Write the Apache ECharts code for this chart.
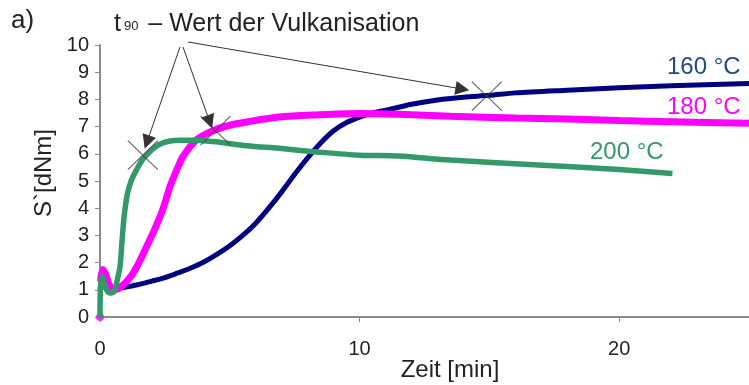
<!DOCTYPE html>
<html>
<head>
<meta charset="utf-8">
<script src="https://cdn.jsdelivr.net/npm/echarts@6/dist/echarts.min.js"></script>
<style>
html,body{margin:0;padding:0;background:#fff;}
#chart{width:749px;height:385px;}
</style>
</head>
<body>
<div id="chart"></div>
<script>
// Data (x: Zeit [min], y: S` [dNm])
var curve160 = [[0,1.0],[0.1,1.3],[0.3,1.15],[0.6,1.05],[1.0,1.1],[1.5,1.2],[2,1.32],[2.5,1.45],[3,1.62],[3.5,1.8],[4,2.02],[4.5,2.3],[5,2.62],[5.5,3.0],[6,3.45],[6.5,4.0],[7,4.6],[7.5,5.25],[8,5.85],[8.5,6.4],[9,6.85],[9.5,7.15],[10,7.35],[10.5,7.5],[11,7.6],[12,7.82],[13,7.98],[14,8.08],[15,8.15],[16,8.24],[18,8.34],[20,8.43],[22,8.5],[25,8.58]];
var curve180 = [[0.02,1.3],[0.1,1.75],[0.2,1.6],[0.35,1.2],[0.5,1.0],[0.8,1.1],[1.2,1.5],[1.5,2.0],[1.8,2.6],[2.05,3.1],[2.4,3.9],[2.7,4.8],[3.0,5.5],[3.2,5.9],[3.7,6.5],[4.35,6.85],[5,7.05],[5.65,7.17],[6.9,7.35],[8.35,7.43],[10,7.48],[11.5,7.45],[13.5,7.38],[16,7.32],[18,7.28],[20,7.22],[22,7.18],[25,7.12]];
var start180 = [[0,0]];
var curve200 = [[0,0],[0.02,1.1],[0.08,1.5],[0.15,1.3],[0.25,1.0],[0.4,0.88],[0.55,0.95],[0.65,1.3],[0.77,1.85],[0.85,2.8],[0.93,3.7],[1.05,4.5],[1.2,5.0],[1.4,5.4],[1.65,5.8],[2.0,6.15],[2.3,6.35],[2.7,6.47],[3.1,6.5],[3.5,6.5],[4.35,6.45],[5.65,6.3],[6.9,6.2],[8.35,6.07],[10,5.95],[11.5,5.92],[13.5,5.77],[16.7,5.6],[20,5.42],[22.05,5.28]];
var t90Points = [[1.65,5.95],[4.45,6.85],[14.9,8.12]];
var arrowTips = [[1.81,6.43],[4.23,7.17],[13.96,8.38]];
var xTicks = [0, 10, 20];
var yTicks = [0,1,2,3,4,5,6,7,8,9,10];

var FONT = 'Liberation Sans, Arial, sans-serif';
var chart = echarts.init(document.getElementById('chart'), null, {renderer:'canvas'});

var arrowTails = [{x:180,y:47},{x:183,y:47},{x:188,y:42}];
var arrowData = arrowTips.map(function(p,i){ return [arrowTails[i], {coord:p}]; });

var option = {
  animation:false,
  backgroundColor:'#fff',
  grid:{left:100,right:0,top:45,bottom:68},
  xAxis:{
    type:'value', min:0, max:25, interval:10,
    axisLine:{lineStyle:{color:'#8a8a8a',width:2}},
    axisTick:{show:true,length:5,lineStyle:{color:'#8a8a8a',width:1}},
    axisLabel:{color:'#222',fontSize:20,fontFamily:FONT,margin:22,showMaxLabel:false},
    splitLine:{show:false}
  },
  yAxis:{
    type:'value', min:0, max:10, interval:1,
    axisLine:{show:true,lineStyle:{color:'#8a8a8a',width:2}},
    axisTick:{show:true,length:5,lineStyle:{color:'#8a8a8a',width:1}},
    axisLabel:{color:'#222',fontSize:20,fontFamily:FONT,margin:11},
    splitLine:{show:false}
  },
  series:[
    {type:'line',name:'160 °C',data:curve160,showSymbol:false,smooth:0.3,
     lineStyle:{color:'#000080',width:5},itemStyle:{color:'#000080'}},
    {type:'line',name:'180 °C',data:curve180,showSymbol:false,smooth:0.3,
     lineStyle:{color:'#ff00ff',width:7},itemStyle:{color:'#ff00ff'}},
    {type:'scatter',data:start180,symbol:'circle',symbolSize:8,itemStyle:{color:'#ff00ff'}},
    {type:'line',name:'200 °C',data:curve200,showSymbol:false,smooth:0.3,
     lineStyle:{color:'#339966',width:5.5},itemStyle:{color:'#339966'},
     markLine:{silent:true,symbol:['none','triangle'],symbolSize:14,
       lineStyle:{color:'#333',width:1,type:'solid'},itemStyle:{color:'#111'},
       label:{show:false},emphasis:{disabled:true},animation:false,
       data:arrowData}},
    {type:'scatter',data:t90Points,symbol:'path://M0,0L10,10M10,0L0,10',symbolSize:[30,29],
     itemStyle:{color:'transparent',borderColor:'#444',borderWidth:1.2},z:5}
  ],
  graphic:[
    {type:'text',left:11,top:8,style:{text:'a)',font:'26px '+FONT,fill:'#222'}},
    {type:'text',left:114,top:12,style:{
      text:'{t|t}{s|90}{t| – Wert der Vulkanisation}',
      rich:{t:{font:'25px '+FONT,fill:'#222',lineHeight:28,verticalAlign:'bottom'},
            s:{font:'13px '+FONT,fill:'#222',lineHeight:28,verticalAlign:'bottom',padding:[0,3,4,3]}}
    }},
    {type:'text',x:450,y:370,style:{text:'Zeit [min]',font:'24px '+FONT,fill:'#222',align:'center',verticalAlign:'middle'}},
    {type:'text',x:44,y:173,rotation:Math.PI/2,style:{text:'S`[dNm]',font:'24px '+FONT,fill:'#222',align:'center',verticalAlign:'middle'}},
    {type:'text',x:667,y:67,style:{text:'160 °C',font:'24px '+FONT,fill:'#264a80',verticalAlign:'middle'}},
    {type:'text',x:667,y:107,style:{text:'180 °C',font:'24px '+FONT,fill:'#ff00ff',verticalAlign:'middle'}},
    {type:'text',x:590,y:152,style:{text:'200 °C',font:'24px '+FONT,fill:'#339966',verticalAlign:'middle'}}
  ]
};
chart.setOption(option);
</script>
</body>
</html>
